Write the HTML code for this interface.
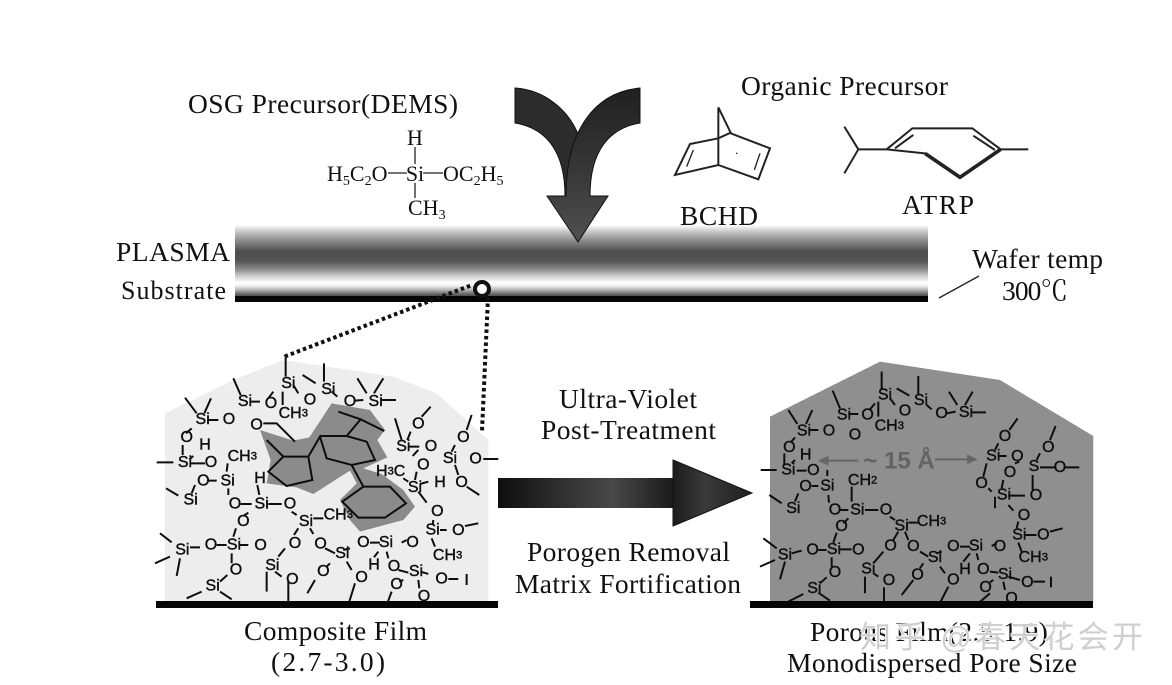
<!DOCTYPE html>
<html><head><meta charset="utf-8">
<style>
html,body{margin:0;padding:0;background:#fff;width:1172px;height:685px;overflow:hidden}
svg{display:block}
.s text{font-family:"Liberation Serif","Noto Serif CJK SC",serif;fill:#111}
.t{font-size:27.5px}
.f{font-size:22px}
.m text{font-family:"Liberation Sans",sans-serif;font-size:48px;text-anchor:middle;dominant-baseline:central;fill:#111;stroke:#111;stroke-width:1.3}
.m path{fill:none;stroke:#111;stroke-width:6}
.sub{font-size:34px}
</style></head>
<body>
<svg width="1172" height="685" viewBox="0 0 1172 685" xmlns="http://www.w3.org/2000/svg">
<defs>
<linearGradient id="band" x1="0" y1="0" x2="0" y2="1">
<stop offset="0" stop-color="#fff"/><stop offset=".09" stop-color="#c8c8c8"/><stop offset=".22" stop-color="#8a8a8a"/><stop offset=".37" stop-color="#4e4e4e"/><stop offset=".5" stop-color="#555"/><stop offset=".62" stop-color="#8e8e8e"/><stop offset=".72" stop-color="#d4d4d4"/><stop offset=".8" stop-color="#fff"/><stop offset=".84" stop-color="#f4f4f4"/><stop offset=".9" stop-color="#b5b5b5"/><stop offset=".96" stop-color="#666"/><stop offset="1" stop-color="#444"/>
</linearGradient>
<linearGradient id="shaft" x1="0" y1="0" x2="1" y2="0">
<stop offset="0" stop-color="#0e0e0e"/><stop offset=".3" stop-color="#2a2a2a"/><stop offset=".65" stop-color="#484848"/><stop offset="1" stop-color="#1a1a1a"/>
</linearGradient>
<linearGradient id="head" x1="0" y1="0" x2="1" y2="0">
<stop offset="0" stop-color="#1c1c1c"/><stop offset=".4" stop-color="#3a3a3a"/><stop offset="1" stop-color="#1f1f1f"/>
</linearGradient>
<linearGradient id="down" x1="0" y1="0" x2="0" y2="1">
<stop offset="0" stop-color="#202020"/><stop offset=".6" stop-color="#3a3a3a"/><stop offset="1" stop-color="#505050"/>
</linearGradient>
<filter id="soft"><feGaussianBlur stdDeviation="0.35"/></filter>
</defs>

<!-- band -->
<rect x="235" y="225" width="693" height="72" fill="url(#band)"/>
<rect x="235" y="296" width="693" height="6" fill="#050505"/>

<!-- curved arrow -->
<g stroke="#111" stroke-width="1">
<path d="M515,88 C545,90 568,110 578,134 L566,196 L565,196 C565,150 545,128 515,123 Z" fill="#2c2c2c"/>
<path d="M640,88 C595,92 566,130 566,196 L547,196 L578,242 L608,196 L590,196 C590,150 610,128 640,123 Z" fill="url(#down)" stroke="#111"/>
</g>

<!-- top text -->
<g class="s">
<text class="t" x="188" y="113" textLength="270" lengthAdjust="spacing">OSG Precursor(DEMS)</text>
<text class="t" x="741" y="95" textLength="207" lengthAdjust="spacing">Organic Precursor</text>
<text class="t" x="680" y="225" textLength="78" lengthAdjust="spacing">BCHD</text>
<text class="t" x="902" y="214" textLength="72" lengthAdjust="spacing">ATRP</text>
<text class="t" x="116" y="261" textLength="114" lengthAdjust="spacing">PLASMA</text>
<text class="t" x="121" y="299" textLength="105" lengthAdjust="spacing" style="font-size:26px">Substrate</text>
<text class="t" x="972" y="268" textLength="131" lengthAdjust="spacing">Wafer temp</text>
<text class="t" x="1002" y="300" textLength="66" lengthAdjust="spacing">300℃</text>
<text class="t" x="559" y="408" textLength="138" lengthAdjust="spacing">Ultra-Violet</text>
<text class="t" x="541" y="439" textLength="175" lengthAdjust="spacing">Post-Treatment</text>
<text class="t" x="527" y="561" textLength="203" lengthAdjust="spacing">Porogen Removal</text>
<text class="t" x="515" y="593" textLength="226" lengthAdjust="spacing">Matrix Fortification</text>
<text class="t" x="244" y="640" textLength="183" lengthAdjust="spacing">Composite Film</text>
<text class="t" x="271" y="671" textLength="114" lengthAdjust="spacing">(2.7-3.0)</text>
<text class="t" x="810" y="641" textLength="245" lengthAdjust="spacing">Porous Film(2.5-1.9),</text>
<text class="t" x="787" y="672" textLength="290" lengthAdjust="spacing">Monodispersed Pore Size</text>
<text class="f" x="415" y="145" text-anchor="middle">H</text>
<text class="f" x="327" y="181">H<tspan font-size="14" dy="4">5</tspan><tspan dy="-4">C</tspan><tspan font-size="14" dy="4">2</tspan><tspan dy="-4">O</tspan></text>
<text class="f" x="415" y="181" text-anchor="middle">Si</text>
<text class="f" x="443" y="181">OC<tspan font-size="14" dy="4">2</tspan><tspan dy="-4">H</tspan><tspan font-size="14" dy="4">5</tspan></text>
<text class="f" x="408" y="215">CH<tspan font-size="14" dy="4">3</tspan></text>
</g>
<g stroke="#222" stroke-width="1.3" fill="none">
<path d="M415,147V164M388,173H407M423,173H443M415,183V198"/>
<path d="M939,298L979,276"/>
</g>

<!-- BCHD / ATRP -->
<g transform="translate(660,70) scale(.3333)" fill="none" stroke="#222" stroke-width="6">
<path d="M175,112V285M175,112L212,188L175,205L90,222L45,315L175,285L295,328L330,235L212,190"/>
<path d="M100,240L80,290M300,250L283,300" stroke-width="4"/>
<path d="M228,250h4" stroke-width="4"/>
<path d="M553,170L595,238L553,310M595,238H680L757,175H937L1022,238H1105M705,235L760,195M940,197L1005,240M680,238L795,250" stroke-width="6"/>
<path d="M795,250L900,322L1022,238" stroke-width="11"/>
</g>

<!-- left panel -->
<g filter="url(#soft)">
<g transform="translate(150,350) scale(.3333)">
<path d="M45,190L250,90L400,30L730,80L860,130L1015,270V755H45Z" fill="#ededed"/>
<path d="M330,240L430,272L478,262L545,160L660,180L705,240L682,270L712,322L640,355L695,372L760,420L795,470L760,510L630,545L600,510L570,450L620,400L600,362L540,400L490,432L440,412L350,400L362,330Z" fill="#8b8b8b"/>
<g class="m">
<path d="M407,22V80M522,40V95M458,75L497,100M250,85L272,135M105,143L140,190M183,145L163,190M622,85L650,130M700,85L672,130M398,125V165M430,105L445,130M370,125L355,145M545,125L562,140M300,155H330M615,152L640,150M695,150H738M175,210H205M125,235L108,250M98,285V315M20,337H70M130,318L118,328M120,340H165M233,340L230,365M175,392H200M48,415L85,437M135,405L125,430M235,415V435M322,405L328,435M272,462H305M355,462H395M425,485L440,495M295,488L280,498M258,535L250,560M490,505H520M445,535L432,555M480,535L490,552M30,550L65,577M15,640L60,620M90,625L80,678M120,592H150M200,585H230M270,585H295M245,610V640M232,675L210,695M110,745L155,725M210,725L245,748M405,595L385,620M350,665V725M375,665L395,680M415,695V755M540,640L530,650M495,690L472,730M525,595L555,610M590,635L605,660M615,700L598,755M660,578H690M685,605L672,622M710,605L715,625M745,660L775,668M812,665L835,672M805,690L808,715M725,725L712,760M895,687H925M950,672V705M760,690L748,695M600,595L580,600M770,570L755,578M735,205L755,270M842,170L815,200M782,245L772,270M778,290H808M805,300L788,318M965,195L950,240M915,285L905,305M1000,327H1045M915,345L925,375M950,410L988,435M800,365L795,390M805,425L830,458M760,385L775,395M810,402L835,395M850,510L848,525M870,540H890M945,528L985,520M845,565L855,590"/>
<g stroke="#333" stroke-width="5">
<path d="M340,220H380L435,275M350,270L400,320H475L487,390L410,408L355,365L400,320M475,320L510,260L530,325L605,345L675,330L650,275L590,258H510M590,258L632,208M565,185L632,208L703,243M605,345L640,410H720L768,460L705,503H625L577,455L640,410"/>
</g>
<text x="415" y="100">Si</text><text x="535" y="118">Si</text><text x="285" y="155">Si</text><text x="363" y="160">O</text><text x="480" y="150">O</text><text x="600" y="155">O</text><text x="677" y="155">Si</text><text x="158" y="208">Si</text><text x="237" y="208">O</text><text x="430" y="190">CH<tspan class="sub">3</tspan></text><text x="320" y="225">O</text><text x="110" y="263">O</text><text x="165" y="285">H</text><text x="105" y="337">Si</text><text x="183" y="338">O</text><text x="277" y="320">CH<tspan class="sub">3</tspan></text><text x="160" y="393">O</text><text x="233" y="393">Si</text><text x="330" y="385">H</text><text x="122" y="450">Si</text><text x="255" y="462">O</text><text x="335" y="462">Si</text><text x="420" y="462">O</text><text x="280" y="515">O</text><text x="468" y="515">Si</text><text x="565" y="495">CH<tspan class="sub">3</tspan></text><text x="805" y="222">O</text><text x="760" y="290">Si</text><text x="843" y="290">O</text><text x="940" y="262">O</text><text x="900" y="325">Si</text><text x="977" y="327">O</text><text x="820" y="345">O</text><text x="722" y="365">H<tspan class="sub">3</tspan>C</text><text x="795" y="412">Si</text><text x="870" y="398">H</text><text x="935" y="398">O</text><text x="862" y="485">O</text><text x="848" y="540">Si</text><text x="925" y="542">O</text><text x="893" y="617">CH<tspan class="sub">3</tspan></text><text x="97" y="600">Si</text><text x="183" y="585">O</text><text x="252" y="585">Si</text><text x="332" y="587">O</text><text x="258" y="660">O</text><text x="367" y="647">Si</text><text x="435" y="580">O</text><text x="512" y="582">O</text><text x="577" y="610">Si</text><text x="640" y="578">O</text><text x="708" y="578">Si</text><text x="788" y="578">O</text><text x="520" y="665">O</text><text x="635" y="682">O</text><text x="672" y="645">H</text><text x="732" y="650">O</text><text x="798" y="665">Si</text><text x="875" y="687">O</text><text x="740" y="703">O</text><text x="427" y="688">O</text><text x="188" y="708">Si</text><text x="822" y="740">O</text>
</g>
</g>

<!-- right panel -->
<g transform="translate(750,350) scale(.3333)">
<path d="M60,200L390,35L750,90L1030,258V755H60Z" fill="#8f8f8f"/>
<g class="m">
<path d="M395,65V120M505,78V135M440,115L478,137M248,122L270,175M115,180L142,222M187,180L168,222M597,125L622,165M668,125L645,165M385,155V200M420,145L435,165M375,160L360,178M530,165L545,178M295,192H325M590,190L617,185M665,187H708M180,240H205M135,262L122,278M103,310V345M32,360H80M125,340L135,330M140,362H170M232,378V360M185,408H205M58,435L95,460M145,430L135,455M235,435L237,458M305,410V455M270,480H295M345,480H385M420,500L435,510M295,505L280,520M260,548L250,578M475,518H505M445,545L430,570M465,545L475,570M40,565L80,595M30,650L75,630M105,635L90,688M125,610L155,602M205,600H230M270,598H305M245,622V650M230,682L210,700M115,755L160,732M205,728L240,752M400,605L370,640M345,680V730M370,670L385,680M402,712V755M520,640L510,655M490,690L455,735M510,605L535,620M570,650L585,670M595,710L572,755M630,590H660M660,610L640,635M680,610L685,630M720,665L745,668M775,680L810,690M760,695L765,720M720,730L685,760M850,695H885M903,680V712M730,690L720,697M575,605L560,610M740,580L725,588M803,205L778,240M745,280L735,300M745,318H770M795,340L808,335M917,228L900,270M870,310L860,330M870,352H915M945,352H988M760,390L755,415M710,340L700,380M715,415L725,425M775,437H825M848,375V420M775,465L790,482M805,515L800,535M825,555H860M900,545L938,535M805,578L815,605"/>
<text x="405" y="135">Si</text><text x="513" y="152">Si</text><text x="465" y="183">O</text><text x="575" y="190">O</text><text x="648" y="188">Si</text><text x="282" y="195">Si</text><text x="353" y="195">O</text><text x="418" y="228">CH<tspan class="sub">3</tspan></text><text x="162" y="243">Si</text><text x="237" y="243">O</text><text x="315" y="255">O</text><text x="118" y="292">O</text><text x="167" y="315">H</text><text x="115" y="360">Si</text><text x="190" y="362">O</text><text x="167" y="410">O</text><text x="232" y="408">Si</text><text x="338" y="392">CH<tspan class="sub">2</tspan></text><text x="130" y="475">Si</text><text x="255" y="480">O</text><text x="322" y="480">Si</text><text x="408" y="480">O</text><text x="275" y="530">O</text><text x="455" y="528">Si</text><text x="545" y="515">CH<tspan class="sub">3</tspan></text><text x="105" y="615">Si</text><text x="188" y="600">O</text><text x="252" y="598">Si</text><text x="325" y="600">O</text><text x="255" y="668">O</text><text x="355" y="657">Si</text><text x="422" y="588">O</text><text x="490" y="590">O</text><text x="555" y="623">Si</text><text x="610" y="590">O</text><text x="678" y="588">Si</text><text x="750" y="590">O</text><text x="503" y="675">O</text><text x="610" y="690">O</text><text x="645" y="658">H</text><text x="700" y="658">O</text><text x="765" y="673">Si</text><text x="832" y="697">O</text><text x="707" y="712">O</text><text x="417" y="692">O</text><text x="193" y="715">Si</text><text x="785" y="745">O</text><text x="765" y="260">O</text><text x="730" y="318">Si</text><text x="802" y="320">O</text><text x="895" y="292">O</text><text x="852" y="350">S</text><text x="930" y="352">O</text><text x="780" y="368">O</text><text x="695" y="400">O</text><text x="762" y="435">Si</text><text x="858" y="437">O</text><text x="735" y="460">I</text><text x="822" y="497">O</text><text x="808" y="555">Si</text><text x="880" y="555">O</text><text x="850" y="622">CH<tspan class="sub">3</tspan></text>
</g>
<g fill="#666" stroke="#666">
<path d="M325,332H225" stroke-width="6"/><path d="M205,332L235,318V346Z"/>
<path d="M555,328H660" stroke-width="6"/><path d="M682,328L652,314V342Z"/>
</g>
<text x="447" y="355" text-anchor="middle" style="font-family:'Liberation Sans',sans-serif;font-weight:bold;font-size:72px;fill:#636363">~ 15 Å</text>
</g>
</g>

<!-- baseline bars -->
<rect x="156" y="601" width="342" height="7" fill="#050505"/>
<rect x="750" y="601" width="343" height="7" fill="#050505"/>

<!-- big right arrow -->
<rect x="498" y="478" width="176" height="30" fill="url(#shaft)"/>
<path d="M673,460L752,493L673,526Z" fill="url(#head)" stroke="#111"/>

<!-- dotted zoom lines -->
<g fill="none" stroke="#111" stroke-width="4" stroke-dasharray="3.5 3">
<path d="M285,357L286,356L472,285"/>
<path d="M488,297L482,431"/>
</g>
<circle cx="482" cy="289" r="7" fill="#fff" stroke="#111" stroke-width="4"/>

<!-- watermark -->
<text x="860" y="648" textLength="283" lengthAdjust="spacing" style="font-family:'Liberation Sans','Noto Sans CJK SC',sans-serif;font-size:31px;fill:#cfcfcf;stroke:#fff;stroke-width:1.5;paint-order:stroke">知乎 @春天花会开</text>
</svg>
</body></html>
